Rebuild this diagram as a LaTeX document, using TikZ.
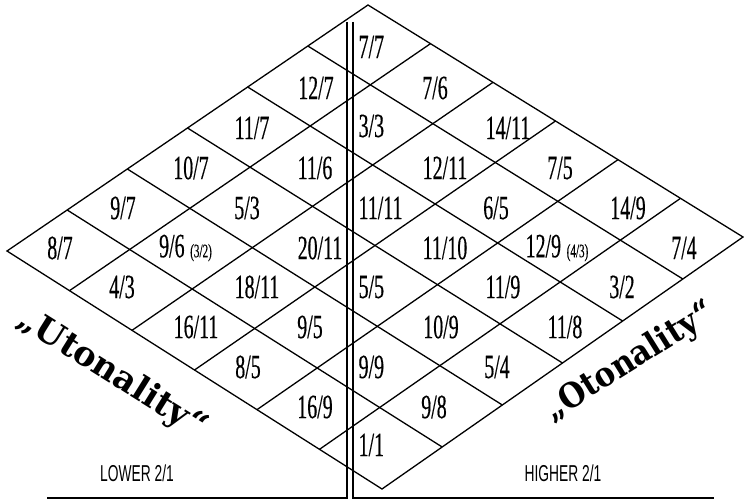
\documentclass[tikz,border=0pt]{standalone}
\usepackage{fontspec}
\usetikzlibrary{calc}
\newfontfamily\labfont[FakeStretch=0.585,FakeBold=0.4]{Liberation Serif}
\newfontfamily\sanslab[FakeStretch=0.6]{Liberation Sans}
\newfontfamily\bigfont{DejaVu Serif}
\begin{document}
\begin{tikzpicture}[x=1pt,y=-1pt, line width=1.3pt,
  lab/.style={font=\labfont\fontsize{34}{34}\selectfont, inner sep=0pt},
  labw/.style={lab, anchor=west},
  oct/.style={font=\sanslab\fontsize{23}{23}\selectfont, inner sep=0pt},
  tone/.style={font=\bigfont\bfseries\fontsize{34}{34}\selectfont, inner sep=0pt}]
\newcommand{\smalllab}[1]{{\fontsize{19}{19}\selectfont #1}}
\useasboundingbox (0,0) rectangle (744,500);
% diamond corners
\coordinate (T) at (368,5);
\coordinate (R) at (743,237);
\coordinate (B) at (382,489);
\coordinate (L) at (7,251);
\draw[line join=miter] (T) -- (R) -- (B) -- (L) -- cycle;
\foreach \k in {1,...,5}{
  \draw ($(T)!\k/6!(L)$) -- ($(R)!\k/6!(B)$);
  \draw ($(T)!\k/6!(R)$) -- ($(L)!\k/6!(B)$);
}
% double vertical line and base line
\coordinate (v1t) at (347,22);
\coordinate (v1b) at (347,498);
\coordinate (h1) at (47,498);
\coordinate (v2t) at (353,22);
\coordinate (v2b) at (353,498);
\coordinate (h2) at (714,498);
\draw (v1t) -- (v1b) -- (h1);
\draw (v2t) -- (v2b) -- (h2);
% labels
\node[labw] (c00) at (358,47) {7/7};
\node[lab] (c01) at (316,88) {12/7};
\node[lab] (c10) at (435,88) {7/6};
\node[lab] (c02) at (252,128) {11/7};
\node[labw] (c11) at (358,126) {3/3};
\node[lab] (c20) at (508,128) {14/11};
\node[lab] (c03) at (191,168) {10/7};
\node[lab] (c12) at (315,168) {11/6};
\node[lab] (c21) at (445,168) {12/11};
\node[lab] (c30) at (560,168) {7/5};
\node[lab] (c04) at (123,208) {9/7};
\node[lab] (c13) at (247,208) {5/3};
\node[labw] (c22) at (358,208) {11/11};
\node[lab] (c31) at (496,208) {6/5};
\node[lab] (c40) at (628,208) {14/9};
\node[lab] (c05) at (60,248) {8/7};
\node[lab] (c14) at (185.5,248) {9/6\,\smalllab{(3/2)}};
\node[lab] (c23) at (320,248) {20/11};
\node[lab] (c32) at (445,248) {11/10};
\node[lab] (c41) at (557,248) {12/9\,\smalllab{(4/3)}};
\node[lab] (c50) at (684,248) {7/4};
\node[lab] (c15) at (122,287) {4/3};
\node[lab] (c24) at (257,287) {18/11};
\node[labw] (c33) at (358,287) {5/5};
\node[lab] (c42) at (503,287) {11/9};
\node[lab] (c51) at (622,287) {3/2};
\node[lab] (c25) at (196,327) {16/11};
\node[lab] (c34) at (310,327) {9/5};
\node[lab] (c43) at (441,327) {10/9};
\node[lab] (c52) at (565,327) {11/8};
\node[lab] (c35) at (248,367) {8/5};
\node[labw] (c44) at (358,367) {9/9};
\node[lab] (c53) at (497,367) {5/4};
\node[lab] (c45) at (315,407) {16/9};
\node[lab] (c54) at (434,407) {9/8};
\node[labw] (c55) at (358,445) {1/1};
% octave labels
\node[oct] (lower) at (137,473) {LOWER 2/1};
\node[oct] (higher) at (563,473) {HIGHER 2/1};
% tonality captions
\node[tone, rotate=-32] (uton) at (112,374) {„Utonality“};
\node[tone, rotate=32] (oton) at (630,362) {\scalebox{0.9}[1]{„Otonality“}};
\end{tikzpicture}
\end{document}
